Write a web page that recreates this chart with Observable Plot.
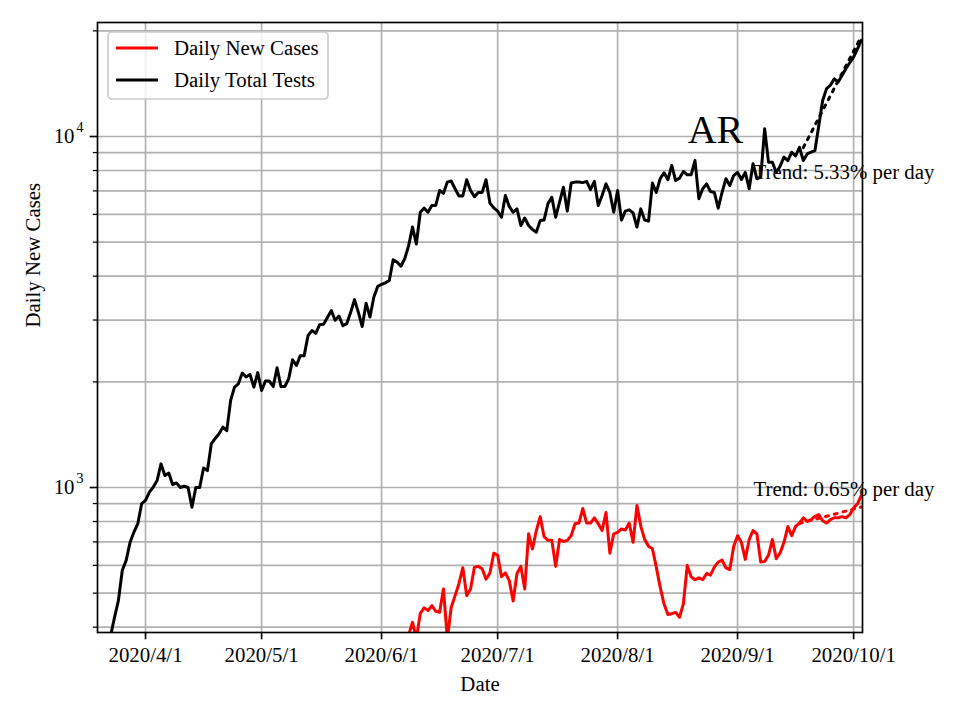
<!DOCTYPE html>
<html><head><meta charset="utf-8">
<script src="https://cdn.jsdelivr.net/npm/d3@7"></script>
<script src="https://cdn.jsdelivr.net/npm/@observablehq/plot@0.6"></script>
<style>
html,body{margin:0;padding:0;background:#fff;}
#chart{width:960px;height:720px;}
</style></head><body><div id="chart"></div>
<script>
// ---- data ----
const testsStart = "2020-03-23";
const dailyTotalTests = [
  380, 427, 477, 581, 620, 698, 746, 788, 899, 919, 970, 1003, 1047, 1168, 1082, 1100, 1020, 1030, 1000, 1008,
  1000, 879, 1000, 1000, 1137, 1117, 1331, 1380, 1422, 1486, 1452, 1771, 1932, 1975, 2119, 2065, 2100, 1932, 2125, 1889,
  2010, 2010, 1940, 2193, 1940, 1940, 2040,
  2312, 2227, 2375, 2375, 2710, 2800, 2750, 2910, 2920, 3050, 3190, 2995, 3080, 2890, 2930, 3150, 3430, 3160, 2875, 3350,
  3060, 3485, 3740, 3790, 3830, 3890, 4455, 4390, 4270, 4490, 4890, 5520, 4940, 6085, 6250, 6085, 6360, 6360, 7015, 6890,
  7415, 7470, 7100, 6770, 6770, 7530, 7015, 6740, 6930,
  6930, 7530, 6460, 6265, 6130, 5890, 6790, 6320, 6085, 6220, 5580, 5860, 5580, 5430, 5340, 5760, 5780, 6440, 6710, 5890,
  6500, 7170, 6130, 7370, 7415, 7420, 7390, 7450, 7060, 7450, 6360, 6790, 7330, 6930, 6085, 7015, 5780, 6130, 6180, 6060,
  5520, 6220, 5780, 5740, 7370, 6930, 7580, 7880, 7530, 8270,
  7490, 7610, 7950, 7780, 7780, 8540, 6650, 7100, 7330, 6970, 6930, 6250, 6930, 7580, 7250, 7740, 7900, 7540, 7900, 7100,
  8360, 7580, 7660, 10520, 8450, 8450, 7900, 8230, 8730, 8540, 9020, 8800, 9320, 8540, 8920, 9020, 9120, 10750, 12660, 13690,
  14000, 14600, 14290, 14930, 15600, 16230, 16830, 17780, 18800
];
const casesStart = "2020-06-08";
const dailyNewCases = [
  380, 413, 370, 438, 454, 446, 461, 444, 441, 514, 370, 456, 492, 532, 591, 492, 514, 593, 596, 587,
  548, 571, 650, 641, 557, 571, 543, 475, 569, 596, 514, 738, 668, 754, 826, 724, 707, 707, 596, 711,
  702, 707, 729, 788, 792, 871, 792, 792, 820, 788, 754, 849, 650, 738, 745, 762, 757, 792,
  698, 889, 775, 711, 680, 669, 593, 520, 466, 435, 437, 441, 427, 466, 600, 557, 546, 553, 546, 569,
  563, 593, 613, 621, 590, 584, 679, 729, 698, 624, 711, 754, 738, 613, 616, 641, 711, 627, 651, 698,
  774, 729, 775, 792, 820, 800, 810, 828, 837, 804, 792, 810, 820, 820, 826, 820, 837, 874, 899, 949
];
const testsTrendDates = ["2020-09-18", "2020-10-03"];
const testsTrendValues = [9300, 19300];
const casesTrendDates = ["2020-09-17", "2020-10-03"];
const casesTrendValues = [790, 880];
const trendLabels = ["Trend: 5.33% per day", "Trend: 0.65% per day"];
const seriesNames = ["Daily New Cases", "Daily Total Tests"];
const seriesColors = ["red", "black"];
const regionLabel = "AR";
const xAxisLabel = "Date";
const yAxisLabel = "Daily New Cases";
const monthTicks = ["2020-04-01", "2020-05-01", "2020-06-01", "2020-07-01", "2020-08-01", "2020-09-01", "2020-10-01"];
const yMajorTicks = [1000, 10000];
const yMajorExponents = ["3", "4"];
const yMinorTicks = [400, 500, 600, 700, 800, 900, 2000, 3000, 4000, 5000, 6000, 7000, 8000, 9000, 20000];

// ---- build tables ----
const parse = d3.utcParse("%Y-%m-%d");
const toRows = (start, vals) => vals.map((v, i) => ({date: d3.utcDay.offset(parse(start), i), value: v}));
const tests = toRows(testsStart, dailyTotalTests);
const cases = toRows(casesStart, dailyNewCases);
const testsTrend = testsTrendDates.map((d, i) => ({date: parse(d), value: testsTrendValues[i]}));
const casesTrend = casesTrendDates.map((d, i) => ({date: parse(d), value: casesTrendValues[i]}));
const months = monthTicks.map(parse);
const fmt = d => `${d.getUTCFullYear()}/${d.getUTCMonth() + 1}/${d.getUTCDate()}`;
const FS = 20.83;
const GRID = "#b0b0b0";

const plot = Plot.plot({
  width: 960, height: 720,
  marginLeft: 97, marginRight: 98, marginTop: 22, marginBottom: 88,
  style: {fontFamily: "'Liberation Serif','Times New Roman',serif", fontSize: FS + "px", background: "white", overflow: "visible"},
  x: {type: "utc", domain: [new Date("2020-03-19T14:10Z"), new Date("2020-10-03T07:00Z")], label: null},
  y: {type: "log", domain: [386.3, 21126], label: null},
  marks: [
    Plot.gridY(yMinorTicks.concat(yMajorTicks), {stroke: GRID, strokeOpacity: 1, strokeWidth: 1.67}),
    Plot.gridX(months, {stroke: GRID, strokeOpacity: 1, strokeWidth: 1.67}),
    Plot.line(cases, {x: "date", y: "value", stroke: seriesColors[0], strokeWidth: 3, clip: "frame"}),
    Plot.line(tests, {x: "date", y: "value", stroke: seriesColors[1], strokeWidth: 3, clip: "frame"}),
    Plot.line(casesTrend, {x: "date", y: "value", stroke: seriesColors[0], strokeWidth: 3, strokeDasharray: "3,6", clip: "frame"}),
    Plot.line(testsTrend, {x: "date", y: "value", stroke: seriesColors[1], strokeWidth: 3, strokeDasharray: "3,6", clip: "frame"}),
    Plot.frame({stroke: "#000", strokeWidth: 1.67}),
    Plot.axisX(months, {tickSize: 7.3, tickPadding: 7, tickFormat: fmt, fontSize: FS, label: null, strokeWidth: 1.67}),
    Plot.axisY(yMajorTicks, {tickSize: 7.3, tickFormat: () => "", label: null, strokeWidth: 1.67}),
    Plot.axisY(yMinorTicks, {tickSize: 4.2, tickFormat: () => "", label: null, strokeWidth: 1.25}),
    Plot.text(yMajorTicks, {y: d => d, frameAnchor: "left", text: () => "10", textAnchor: "end", dx: -23, fontSize: FS}),
    Plot.text(yMajorTicks, {y: d => d, frameAnchor: "left", text: (d, i) => yMajorExponents[i], textAnchor: "end", dx: -14, dy: -9, fontSize: 14.6}),
    Plot.text([yAxisLabel], {text: d => d, frameAnchor: "left", rotate: -90, dx: -64, fontSize: FS}),
    Plot.text([xAxisLabel], {text: d => d, frameAnchor: "bottom", lineAnchor: "middle", dy: 52, fontSize: FS}),
    Plot.text([regionLabel], {text: d => d, frameAnchor: "top-left", textAnchor: "middle", lineAnchor: "middle", dx: 618, dy: 108, fontSize: 40}),
    Plot.text([trendLabels[0]], {text: d => d, frameAnchor: "top-left", textAnchor: "start", lineAnchor: "middle", dx: 656, dy: 150, fontSize: FS}),
    Plot.text([trendLabels[1]], {text: d => d, frameAnchor: "top-left", textAnchor: "start", lineAnchor: "middle", dx: 656, dy: 467, fontSize: FS})
  ]
});

// ---- legend ----
const svg = d3.select(plot);
const lg = svg.append("g").attr("text-anchor", "start");
lg.append("rect").attr("x", 108).attr("y", 32).attr("width", 220).attr("height", 67).attr("rx", 4)
  .attr("fill", "white").attr("fill-opacity", 0.8).attr("stroke", "#cccccc").attr("stroke-width", 1.67);
seriesNames.forEach((name, i) => {
  const y = 48 + i * 32;
  lg.append("line").attr("x1", 116).attr("x2", 158).attr("y1", y).attr("y2", y)
    .attr("stroke", seriesColors[i]).attr("stroke-width", 3);
  lg.append("text").attr("x", 174).attr("y", y).attr("dy", "0.35em").attr("text-anchor", "start")
    .attr("font-size", FS).attr("fill", "black").text(name);
});

document.getElementById("chart").appendChild(plot);
</script>
</body></html>
